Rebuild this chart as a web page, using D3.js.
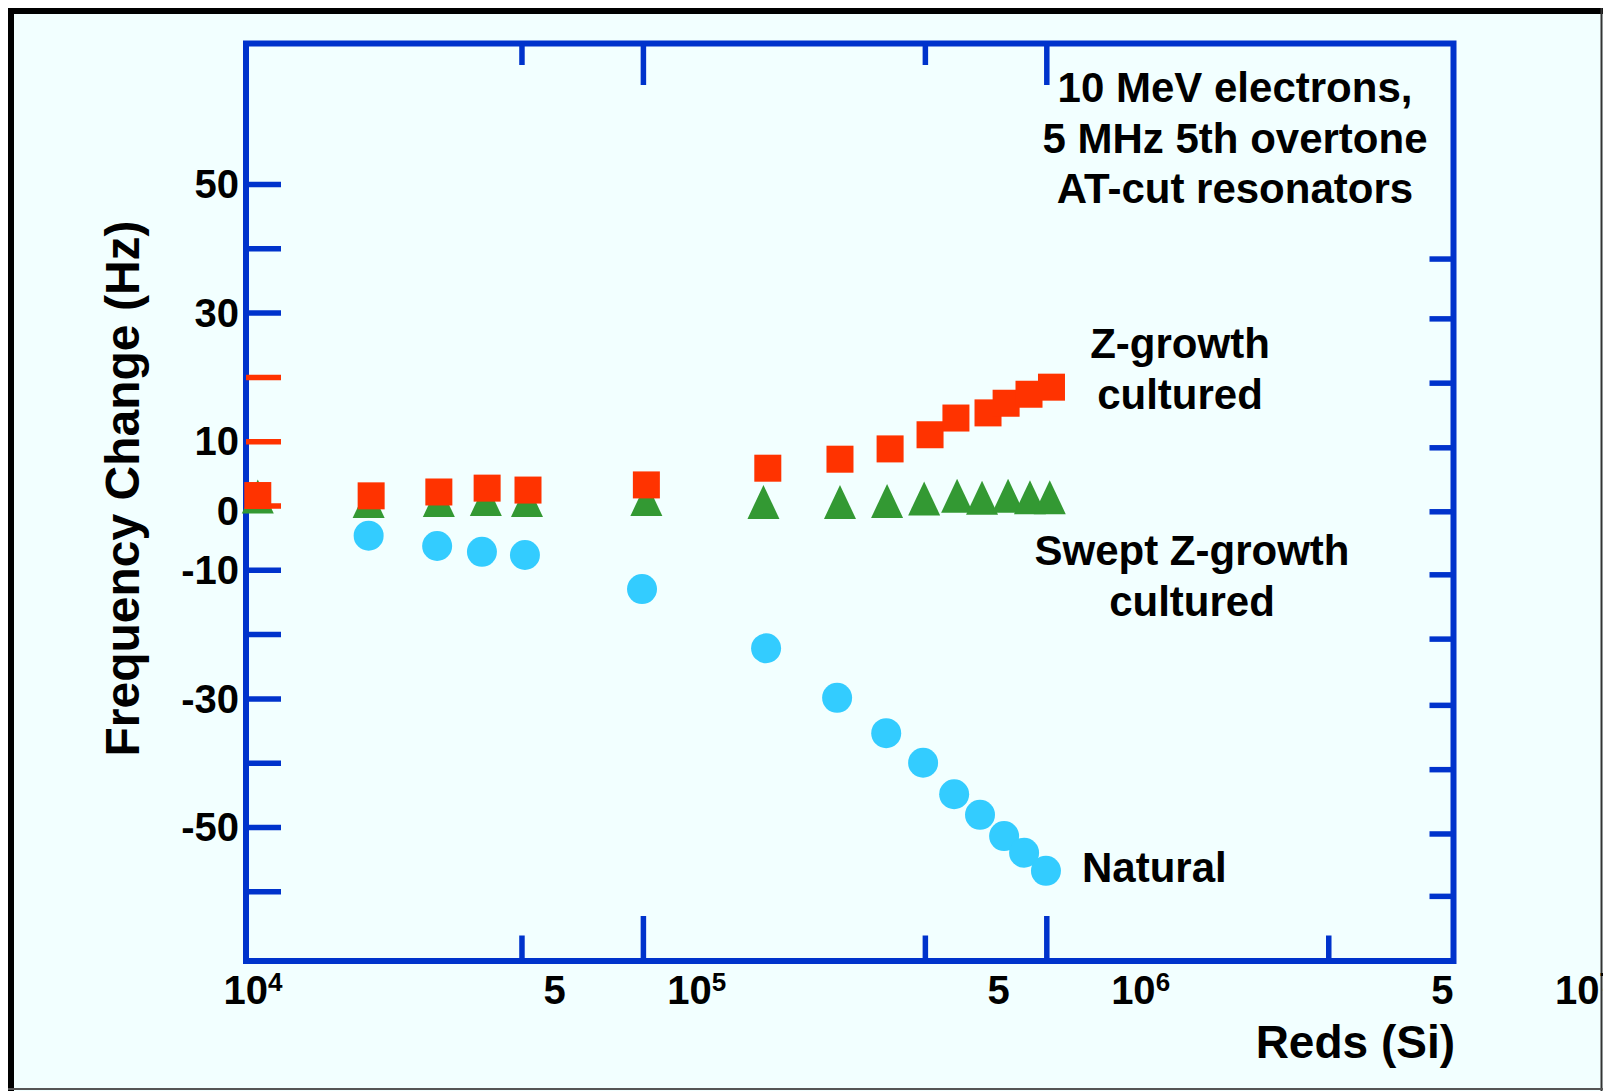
<!DOCTYPE html>
<html><head><meta charset="utf-8">
<script src="https://cdn.jsdelivr.net/npm/d3@7"></script>
<style>
html,body{margin:0;padding:0;background:#fff;}
svg{display:block;}
text{font-family:"Liberation Sans",Arial,Helvetica,sans-serif;font-weight:bold;fill:#000;}
</style></head><body>
<svg id="chart" width="1603" height="1091"></svg>
<script>
// ---- data ----
const doseZ = [1.11e4, 2.12e4, 3.12e4, 4.11e4, 5.19e4, 1.02e5, 2.04e5, 3.08e5, 4.10e5, 5.15e5, 5.97e5, 7.17e5, 7.95e5, 9.06e5, 1.03e6];
const freqZ = [1.55, 1.5, 2.1, 2.7, 2.4, 3.2, 5.8, 7.2, 8.8, 11.0, 13.6, 14.4, 15.9, 17.3, 18.4];
const doseSwept = [1.11e4, 2.09e4, 3.12e4, 4.08e4, 5.16e4, 1.02e5, 1.99e5, 3.08e5, 4.03e5, 4.98e5, 6.01e5, 6.93e5, 8.04e5, 9.11e5, 1.02e6];
const freqSwept = [1.4, 0.7, 0.85, 1.0, 0.85, 1.0, 0.55, 0.55, 0.7, 1.1, 1.5, 1.2, 1.5, 1.3, 1.3];
const doseNatural = [2.09e4, 3.09e4, 3.99e4, 5.10e4, 9.95e4, 2.02e5, 3.03e5, 4.01e5, 4.95e5, 5.91e5, 6.85e5, 7.86e5, 8.81e5, 9.98e5];
const freqNatural = [-4.7, -6.3, -7.2, -7.7, -13.0, -22.2, -29.9, -35.4, -40.0, -44.9, -48.1, -51.4, -54.0, -56.8];

const leftTickValues = [50, 40, 30, 20, 10, 0, -10, -20, -30, -40, -50, -60];
const leftRedTicks = [20, 10, 0];
const rightTickValues = [38.4, 29.1, 19.1, 9.05, -0.9, -10.7, -20.7, -31.0, -41.0, -51.0, -60.7];
const topTickValues = [5e4, 1e5, 5e5, 1e6];
const bottomTickValues = [5e4, 1e5, 5e5, 1e6, 5e6];
const yLabelValues = [50, 30, 10, 0, -10, -30, -50];
const xLabelValues = [1e4, 5e4, 1e5, 5e5, 1e6, 5e6, 1e7];
const xLabelTexts = ["10|4", "5", "10|5", "5", "10|6", "5", "10|7"];
const titleLines = ["10 MeV electrons,", "5 MHz 5th overtone", "AT-cut resonators"];
const labelZ = ["Z-growth", "cultured"];
const labelSwept = ["Swept Z-growth", "cultured"];
const labelNatural = ["Natural"];
const yTitle = "Frequency Change (Hz)";
const xTitle = "Reds (Si)";

// ---- layout ----
const W = 1603, H = 1091;
const box = {left: 246, right: 1453.5, top: 43.5, bottom: 961};
const AX = "#0033CC", RED = "#FF3300", GREEN = "#339933", CYAN = "#33CCFF";

const x = d3.scaleLog().domain([1e4, 1e7]).range([239.5, 1449.7]);
const y = d3.scaleLinear().domain([-70.83, 71.84]).range([box.bottom, box.top]);
const labelX = d3.scaleLog().domain([1e4, 1e7]).range([244.4, 1576]);

const svg = d3.select("#chart");

// page frame
svg.append("rect").attr("x", 8).attr("y", 8).attr("width", W - 8).attr("height", H - 8).attr("fill", "#F2FFFF");
svg.append("line").attr("x1", 8).attr("x2", W).attr("y1", 11).attr("y2", 11).attr("stroke", "#000").attr("stroke-width", 6);
svg.append("line").attr("x1", 11).attr("x2", 11).attr("y1", 8).attr("y2", H).attr("stroke", "#000").attr("stroke-width", 6);
svg.append("line").attr("x1", W - 1.5).attr("x2", W - 1.5).attr("y1", 8).attr("y2", H).attr("stroke", "#333").attr("stroke-width", 2);
svg.append("line").attr("x1", 8).attr("x2", W).attr("y1", H - 2).attr("y2", H - 2).attr("stroke", "#555").attr("stroke-width", 2);

// plot frame
svg.append("rect").attr("x", box.left).attr("y", box.top)
  .attr("width", box.right - box.left).attr("height", box.bottom - box.top)
  .attr("fill", "none").attr("stroke", AX).attr("stroke-width", 6);

// swept triangles (drawn first)
const tri = "M0,-17L16,17L-16,17Z";
svg.append("g").selectAll("path").data(doseSwept.map((d, i) => [d, freqSwept[i]]))
  .join("path").attr("d", tri)
  .attr("transform", d => `translate(${x(d[0])},${y(d[1])})`)
  .attr("fill", GREEN);

function styleTicks(g) {
  g.select(".domain").remove();
  g.selectAll("text").remove();
  g.selectAll(".tick line").attr("stroke-width", 5.5).attr("stroke", AX);
}

// left ticks
svg.append("g").attr("transform", `translate(${box.left},0)`)
  .call(d3.axisLeft(y).tickValues(leftTickValues).tickSize(-35).tickFormat(""))
  .call(styleTicks)
  .call(g => g.selectAll(".tick line").attr("stroke", d => leftRedTicks.includes(d) ? RED : AX));

// right ticks
svg.append("g").attr("transform", `translate(${box.right},0)`)
  .call(d3.axisRight(y).tickValues(rightTickValues).tickSize(-24).tickFormat(""))
  .call(styleTicks);

const isDecade = v => Math.abs(Math.log10(v) - Math.round(Math.log10(v))) < 1e-9;

// top ticks
svg.append("g").attr("transform", `translate(0,${box.top})`)
  .call(d3.axisTop(x).tickValues(topTickValues).tickSize(-41.5).tickFormat(""))
  .call(styleTicks)
  .call(g => g.selectAll(".tick line").attr("y2", d => isDecade(d) ? 41.5 : 21.5));

// bottom ticks
svg.append("g").attr("transform", `translate(0,${box.bottom})`)
  .call(d3.axisBottom(x).tickValues(bottomTickValues).tickSize(-45).tickFormat(""))
  .call(styleTicks)
  .call(g => g.selectAll(".tick line").attr("y2", d => isDecade(d) ? -45 : -25.5));

// Z-growth squares
svg.append("g").selectAll("rect").data(doseZ.map((d, i) => [d, freqZ[i]]))
  .join("rect")
  .attr("x", d => x(d[0]) - 13.5).attr("y", d => y(d[1]) - 13.5)
  .attr("width", 27).attr("height", 27).attr("fill", RED);

// natural circles
svg.append("g").selectAll("circle").data(doseNatural.map((d, i) => [d, freqNatural[i]]))
  .join("circle")
  .attr("cx", d => x(d[0])).attr("cy", d => y(d[1])).attr("r", 15)
  .attr("fill", CYAN);

// y tick labels
svg.append("g").attr("transform", `translate(${box.left},0)`)
  .call(d3.axisLeft(y).tickValues(yLabelValues).tickSize(0).tickPadding(7).tickFormat(d => String(d)))
  .call(g => g.select(".domain").remove())
  .call(g => g.selectAll(".tick line").remove())
  .call(g => g.selectAll("text")
    .style("font-size", "40px").style("font-family", "'Liberation Sans',Arial,sans-serif")
    .style("font-weight", "bold").attr("fill", "#000")
    .attr("dy", d => d === 0 ? "0.47em" : "0.34em"));

// x tick labels
const xl = svg.append("g");
xLabelValues.forEach((v, i) => {
  const parts = xLabelTexts[i].split("|");
  const t = xl.append("text").attr("y", 1004).style("font-size", "40px");
  if (parts.length === 2) {
    t.attr("x", labelX(v) - 21).attr("text-anchor", "start");
    t.append("tspan").text(parts[0]);
    t.append("tspan").attr("dy", -13).style("font-size", "26px").text(parts[1]);
  } else {
    t.attr("x", labelX(v)).attr("text-anchor", "middle").text(parts[0]);
  }
});

// axis titles
svg.append("text").attr("transform", "translate(139,488.5) rotate(-90)")
  .attr("text-anchor", "middle").style("font-size", "48px").text(yTitle);
svg.append("text").attr("x", 1455).attr("y", 1058).attr("text-anchor", "end")
  .style("font-size", "46px").text(xTitle);

// annotation block
function block(lines, xPos, y0, anchor) {
  const g = svg.append("g");
  lines.forEach((s, i) => g.append("text").attr("x", xPos).attr("y", y0 + i * 50.5)
    .attr("text-anchor", anchor).style("font-size", "42px").text(s));
}
block(titleLines, 1235, 102, "middle");
block(labelZ, 1180, 358, "middle");
block(labelSwept, 1192, 565, "middle");
block(labelNatural, 1082, 882, "start");
</script>
</body></html>
